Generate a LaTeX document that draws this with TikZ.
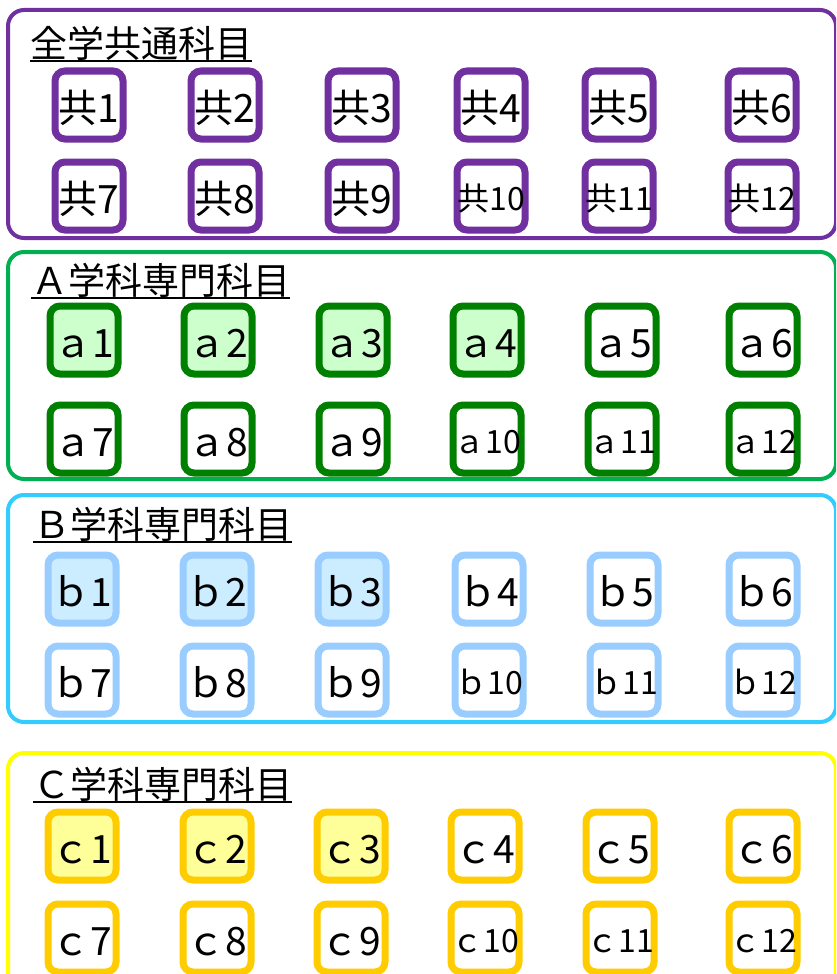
\documentclass[tikz,border=0pt]{standalone}
\usepackage{fontspec}
\setmainfont{Noto Sans CJK JP}
\usepackage{xcolor}
\usepackage{tikz}
\usetikzlibrary{positioning}
\definecolor{kyouline}{HTML}{7030A0}
\definecolor{aline}{HTML}{00B050}
\definecolor{asubj}{HTML}{008000}
\definecolor{afill}{HTML}{CCFFCC}
\definecolor{bline}{HTML}{33CCFF}
\definecolor{bsubj}{HTML}{99CCFF}
\definecolor{bfill}{HTML}{CCECFF}
\definecolor{cline}{HTML}{FFFF00}
\definecolor{csubj}{HTML}{FFCC00}
\definecolor{cfill}{HTML}{FFFF99}

\begin{document}
\begin{tikzpicture}[x=1pt, y=-1pt,
  every node/.style={inner sep=0pt},
  group/.style={draw=#1, line width=4pt, rounded corners=16pt},
  title/.style={font=\fontsize{37}{37}\selectfont, anchor=south west},
  uline/.style={line width=2pt},
  subj/.style={draw=#1, fill=white, line width=7pt, rounded corners=10pt,
               minimum size=68pt, text height=35pt, text depth=0pt,
               font=\fontsize{39}{39}\selectfont},
  twodig/.style={font=\fontsize{32}{32}\selectfont, text height=29pt}]
\useasboundingbox (0,0) rectangle (836,974);
\clip (0,0) rectangle (836,974);

\draw[group=kyouline] (8,10) rectangle (836,238);
\node[title] (tkyou) at (30,61) {全学共通科目};
\draw[uline] (tkyou.south west) -- (tkyou.south east);
\foreach \n/\x in {1/89,2/225,3/362,4/491,5/619,6/762}
  \node[subj=kyouline] (k\n) at (\x,105) {共\n};
\foreach \n/\x in {7/89,8/225,9/362}
  \node[subj=kyouline] (k\n) at (\x,196) {共\n};
\foreach \n/\x in {10/491,11/619,12/762}
  \node[subj=kyouline, twodig] (k\n) at (\x,196) {共\n};

\draw[group=aline] (8,252) rectangle (836,479);
\node[title] (ta) at (31,298) {Ａ学科専門科目};
\draw[uline] (ta.south west) -- (ta.south east);
\foreach \n/\x in {1/84,2/218,3/353,4/487}
  \node[subj=asubj, fill=afill] (a\n) at (\x,340) {ａ\n};
\foreach \n/\x in {5/622,6/763}
  \node[subj=asubj] (a\n) at (\x,340) {ａ\n};
\foreach \n/\x in {7/84,8/218,9/353}
  \node[subj=asubj] (a\n) at (\x,439) {ａ\n};
\foreach \n/\x in {10/487,11/622,12/763}
  \node[subj=asubj, twodig] (a\n) at (\x,439) {ａ\n};

\draw[group=bline] (8,495) rectangle (836,722);
\node[title] (tb) at (33,542) {Ｂ学科専門科目};
\draw[uline] (tb.south west) -- (tb.south east);
\foreach \n/\x in {1/82,2/217,3/352}
  \node[subj=bsubj, fill=bfill] (b\n) at (\x,589) {ｂ\n};
\foreach \n/\x in {4/489,5/624,6/763}
  \node[subj=bsubj] (b\n) at (\x,589) {ｂ\n};
\foreach \n/\x in {7/82,8/217,9/352}
  \node[subj=bsubj] (b\n) at (\x,680) {ｂ\n};
\foreach \n/\x in {10/489,11/624,12/763}
  \node[subj=bsubj, twodig] (b\n) at (\x,680) {ｂ\n};

\draw[group=cline] (8,753) rectangle (836,990);
\node[title] (tc) at (33,802) {Ｃ学科専門科目};
\draw[uline] (tc.south west) -- (tc.south east);
\foreach \n/\x in {1/82,2/217,3/351}
  \node[subj=csubj, fill=cfill] (c\n) at (\x,846) {ｃ\n};
\foreach \n/\x in {4/485,5/620,6/763}
  \node[subj=csubj] (c\n) at (\x,846) {ｃ\n};
\foreach \n/\x in {7/82,8/217,9/351}
  \node[subj=csubj] (c\n) at (\x,938) {ｃ\n};
\foreach \n/\x in {10/485,11/620,12/763}
  \node[subj=csubj, twodig] (c\n) at (\x,938) {ｃ\n};
\end{tikzpicture}
\end{document}
